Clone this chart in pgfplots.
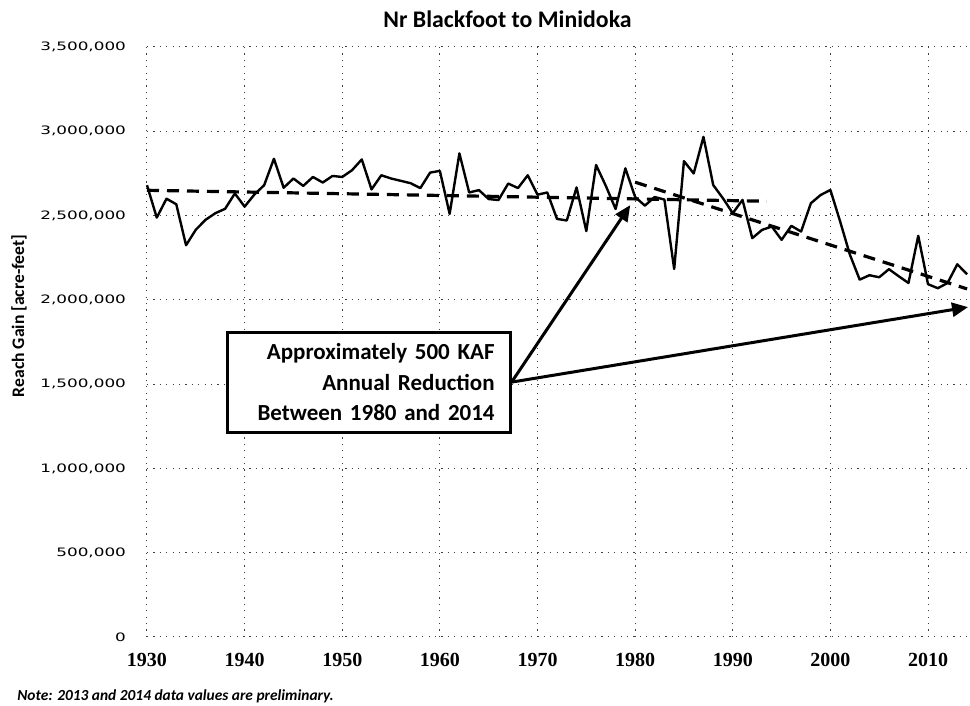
\documentclass[border=0pt]{standalone}
\usepackage{fontspec}
\setmainfont{Carlito}
\newfontfamily\dejavu{DejaVu Sans}
\newfontfamily\libserif{Liberation Serif}
\usepackage{graphicx}
\usepackage{pgfplots}
\pgfplotsset{compat=1.18}
\usetikzlibrary{arrows.meta}
\usepackage{pgfplotstable}

\pgfplotstableread{
year value
1930 2680000
1931 2488000
1932 2600000
1933 2567000
1934 2324000
1935 2416000
1936 2475000
1937 2514000
1938 2540000
1939 2631000
1940 2553000
1941 2625000
1942 2680000
1943 2837000
1944 2665000
1945 2720000
1946 2676000
1947 2729000
1948 2696000
1949 2735000
1950 2729000
1951 2769000
1952 2833000
1953 2655000
1954 2739000
1955 2720000
1956 2706000
1957 2692000
1958 2663000
1959 2755000
1960 2765000
1961 2510000
1962 2869000
1963 2637000
1964 2651000
1965 2598000
1966 2592000
1967 2690000
1968 2663000
1969 2739000
1970 2624000
1971 2637000
1972 2480000
1973 2471000
1974 2667000
1975 2408000
1976 2800000
1977 2676000
1978 2539000
1979 2780000
1980 2610000
1981 2559000
1982 2610000
1983 2595000
1984 2183000
1985 2823000
1986 2750000
1987 2967000
1988 2681000
1989 2602000
1990 2514000
1991 2593000
1992 2366000
1993 2415000
1994 2435000
1995 2356000
1996 2439000
1997 2405000
1998 2573000
1999 2622000
2000 2652000
2001 2465000
2002 2268000
2003 2120000
2004 2146000
2005 2134000
2006 2182000
2007 2140000
2008 2100000
2009 2380000
2010 2093000
2011 2069000
2012 2100000
2013 2211000
2014 2152000
}\gaindata

\pgfplotstableread{
year value
1930 2650000
1993.5 2585000
}\trendA

\pgfplotstableread{
year value
1980 2698000
2014 2065000
}\trendB

\begin{document}
\begin{tikzpicture}
\begin{axis}[
  scale only axis, width=411.5pt, height=295pt,
  xmin=1930, xmax=2014.3, ymin=0, ymax=3500000,
  axis line style={draw=none},
  major tick length=0pt,
  xtick={1930,1940,1950,1960,1970,1980,1990,2000,2010},
  ytick={0,500000,1000000,1500000,2000000,2500000,3000000,3500000},
  grid=major,
  major grid style={black!75, line width=0.5pt, dash pattern=on 0.6pt off 2.6pt},
  scaled y ticks=false, scaled x ticks=false,
  /pgf/number format/assume math mode=true,
  xticklabel style={font=\libserif\bfseries\fontsize{10}{12}\selectfont, /pgf/number format/1000 sep={}, yshift=-4.5pt},
  yticklabel style={font=\dejavu\fontsize{5.8}{7}\selectfont, /pgf/number format/fixed, /pgf/number format/1000 sep={,}, xshift=-7pt},
  yticklabel={\scalebox{1.45}[1]{\pgfmathprintnumber{\tick}}},
  clip=false,
]
\addplot[black, line width=1.2pt, line join=round] table[x=year,y=value]{\gaindata};
\addplot[black, line width=1.6pt, dash pattern=on 6pt off 4pt] table[x=year,y=value]{\trendA};
\addplot[black, line width=1.6pt, dash pattern=on 6pt off 4pt] table[x=year,y=value]{\trendB};

\node[draw, line width=1.5pt, fill=white, text width=126pt, align=right,
      inner xsep=7.75pt, minimum height=50pt,
      font=\fontsize{11.5}{15.25}\selectfont\bfseries] (box)
      at (axis cs:1952.7,1512000) {Approximately 500 KAF\\Annual Reduction\\Between 1980 and 2014};
\draw[line width=1.5pt, -{Triangle[length=8pt,width=7pt]}] (box.east) -- (axis cs:1979.5,2562000);
\draw[line width=1.5pt, -{Triangle[length=8pt,width=7pt]}] (box.east) -- (axis cs:2014.1,1957000);
\end{axis}
\node[anchor=base, font=\fontsize{11.9}{14}\selectfont\bfseries] at (180.25pt,304.5pt) {Nr Blackfoot to Minidoka};
\node[rotate=90, font=\fontsize{8.8}{10}\selectfont\bfseries] at (-64pt,160.5pt) {Reach Gain [acre-feet]};
\node[anchor=base west, inner sep=0pt, font=\fontsize{7.7}{9}\selectfont\bfseries\itshape] at (-65pt,-32pt) {Note: 2013 and 2014 data values are preliminary.};
\pgfresetboundingbox
\path[use as bounding box] (-73.5pt,-34.5pt) rectangle (411.5pt,318.5pt);
\end{tikzpicture}
\end{document}
